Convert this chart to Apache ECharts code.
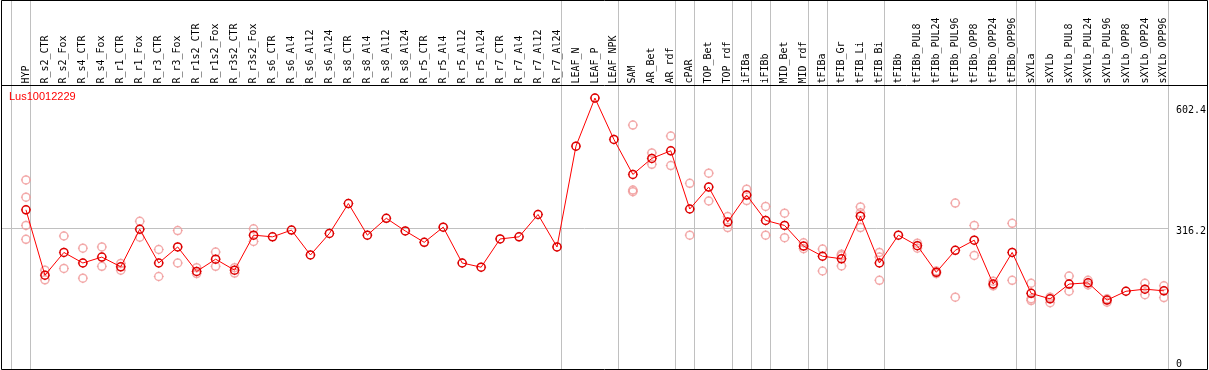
<!DOCTYPE html>
<html><head><meta charset="utf-8">
<script src="https://cdn.jsdelivr.net/npm/echarts@6/dist/echarts.min.js"></script>
<style>html,body{margin:0;padding:0;background:#fff}#c{width:1209px;height:370px}</style>
</head><body><div id="c"></div>
<script>
const geneName = 'Lus10012229';
const categories = ['HYP','R_s2_CTR','R_s2_Fox','R_s4_CTR','R_s4_Fox','R_r1_CTR','R_r1_Fox','R_r3_CTR','R_r3_Fox','R_r1s2_CTR','R_r1s2_Fox','R_r3s2_CTR','R_r3s2_Fox','R_s6_CTR','R_s6_Al4','R_s6_Al12','R_s6_Al24','R_s8_CTR','R_s8_Al4','R_s8_Al12','R_s8_Al24','R_r5_CTR','R_r5_Al4','R_r5_Al12','R_r5_Al24','R_r7_CTR','R_r7_Al4','R_r7_Al12','R_r7_Al24','LEAF_N','LEAF_P','LEAF_NPK','SAM','AR_Bet','AR_rdf','cPAR','TOP_Bet','TOP_rdf','iFIBa','iFIBb','MID_Bet','MID_rdf','tFIBa','tFIB_Gr','tFIB_Li','tFIB_Bi','tFIBb','tFIBb_PUL8','tFIBb_PUL24','tFIBb_PUL96','tFIBb_OPP8','tFIBb_OPP24','tFIBb_OPP96','sXYLa','sXYLb','sXYLb_PUL8','sXYLb_PUL24','sXYLb_PUL96','sXYLb_OPP8','sXYLb_OPP24','sXYLb_OPP96'];
const meanValues = [360,205,259,234,248,225,314,234,272,214,243,217,300,296,312,253,304,375,300,340,310,283,319,234,224,291,296,349,272,511,625,527,444,482,500,362,414,331,395,335,323,274,250,244,345,234,300,275,212,264,288,184,259,162,149,184,187,146,167,172,168];
const replicates = [
  [431,390,323,290],[217,194],[298,221],[269,198],[272,226],[233,217],[333,295],[266,202],[311,234],[223,209],[260,226],[223,210],[315,285],
  [],[],[],[],[],[],[],[],[],[],[],[],[],[],[],[],[],[],[],
  [561,407,403],[495,468],[535,465],[423,300],[447,381],[344,318],[409,382],[368,300],[352,294],[282,268],[267,215],[255,251,227],[367,353,318],[259,248,193],
  [],[281,269],[215,209],[376,153],[323,252],[191,180],[328,193],
  [186,149,145],[153,140],[203,167],[193,182],[149,141],[],[186,159],[180,152]
];
const groupEnds = [-1,0,28,31,34,35,37,38,39,41,42,45,52,53,60];
const yMax = 602.4;
const yStep = 316.2;

const chart = echarts.init(document.getElementById('c'), null, {renderer:'canvas'});
const tickSym = 'path://M0,-5L0,-3.5M0,3.5L0,5M-5,0L-3.5,0M3.5,0L5,0';
const repData = [];
replicates.forEach((arr,i)=>arr.forEach(v=>repData.push([i,v])));
const lineData = meanValues.map((v,i)=>[i,v]);
const sepOffset = 0.25;
const repColor = '#f09999', mainColor = '#dd0000';

chart.setOption({
  animation:false,
  backgroundColor:'#fff',
  title:{text:geneName,left:9,top:91,padding:0,textStyle:{color:'#ff0000',fontSize:11,fontWeight:'normal',fontFamily:'Liberation Sans'}},
  grid:{left:7,right:43,top:107.6,bottom:8.3},
  xAxis:{type:'value',position:'top',min:-1,max:categories.length-1,interval:1,offset:22,
    axisLine:{show:false},axisTick:{show:false},splitLine:{show:false},
    axisLabel:{rotate:90,margin:2,fontFamily:'DejaVu Sans Mono',fontSize:10,color:'#000',
      showMinLabel:true,showMaxLabel:true,formatter:v=>categories[Math.round(v)]||''}},
  yAxis:{type:'value',position:'right',min:0,max:yMax,interval:yStep,
    axisLine:{show:false},axisTick:{show:false},splitLine:{show:false},
    axisLabel:{margin:12,verticalAlign:'top',padding:[-2,0,0,0],fontFamily:'DejaVu Sans Mono',fontSize:10,color:'#000',showMaxLabel:true,showMinLabel:true}},
  graphic:[
    {type:'rect',shape:{x:1.5,y:0.5,width:1206,height:369},style:{fill:'none',stroke:'#000',lineWidth:1},z:100},
    {type:'line',shape:{x1:1,y1:85.5,x2:1208,y2:85.5},style:{stroke:'#000',lineWidth:1},z:100}
  ],
  series:[
    {type:'custom',coordinateSystem:'cartesian2d',clip:false,silent:true,z:1,
      data:[[0,yStep]],
      renderItem:(params,api)=>{
        const children = groupEnds.map(i=>{
          const x=Math.floor(api.coord([i+sepOffset,0])[0])+0.5;
          return {type:'line',shape:{x1:x,y1:0,x2:x,y2:369},style:{stroke:'#c0c0c0',lineWidth:1}};
        });
        const y=Math.floor(api.coord([0,api.value(1)])[1])+0.5;
        const x2=Math.floor(api.coord([groupEnds[groupEnds.length-1]+sepOffset,0])[0]);
        children.push({type:'line',shape:{x1:1,y1:y,x2:x2,y2:y},style:{stroke:'#c0c0c0',lineWidth:1}});
        return {type:'group',children:children};
      }},
    {type:'scatter',data:repData,symbol:'circle',symbolSize:8,clip:false,z:2,
      itemStyle:{color:'rgba(255,255,255,0)',borderColor:repColor,borderWidth:1.5}},
    {type:'scatter',data:repData,symbol:tickSym,symbolSize:10,clip:false,z:2,
      itemStyle:{color:'rgba(255,255,255,0)',borderColor:repColor,borderWidth:1}},
    {type:'line',data:lineData,symbol:'circle',symbolSize:8,showAllSymbol:true,clip:false,z:3,
      lineStyle:{color:'#ff0000',width:1},
      itemStyle:{color:'rgba(255,255,255,0)',borderColor:mainColor,borderWidth:1.5}},
    {type:'scatter',data:lineData,symbol:tickSym,symbolSize:10,clip:false,z:3,
      itemStyle:{color:'rgba(255,255,255,0)',borderColor:mainColor,borderWidth:1}}
  ]
});
</script></body></html>
